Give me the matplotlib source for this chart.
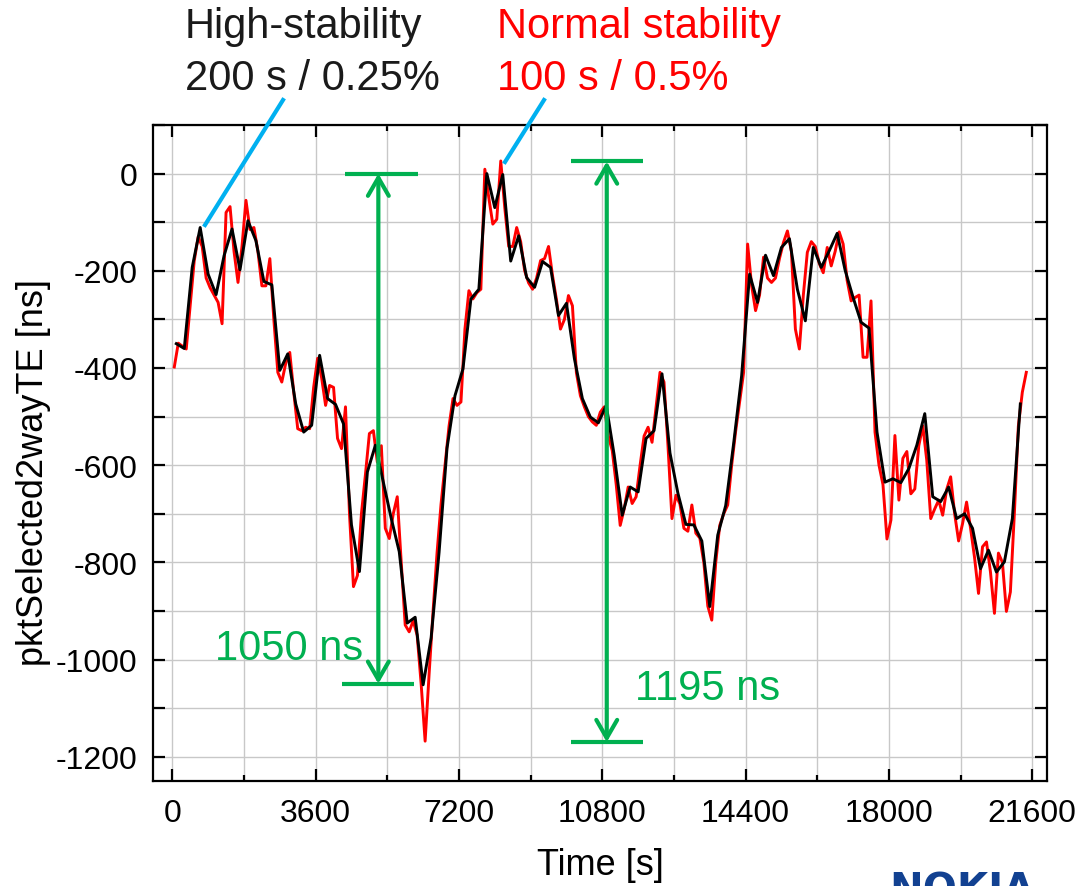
import numpy as np
import matplotlib
matplotlib.use("Agg")
import matplotlib.pyplot as plt
from matplotlib.lines import Line2D
from matplotlib.ticker import MultipleLocator

plt.rcParams['font.family'] = ['Liberation Sans', 'DejaVu Sans']
plt.rcParams['axes.unicode_minus'] = False

# ---------------- data ----------------
# Normal stability (100 s / 0.5%), one sample every 100 s starting at 50 s
normal_t0, normal_dt = 50, 100
normal_vals = [
    -398, -349, -355, -361, -270, -180, -130, -150, -215, -235,
    -250, -265, -309, -80, -68, -160, -224, -150, -55, -115,
    -111, -160, -231, -231, -175, -300, -409, -429, -390, -368,
    -450, -525, -529, -522, -525, -440, -380, -420, -477, -436,
    -440, -545, -566, -480, -700, -850, -827, -700, -620, -535,
    -529, -594, -560, -730, -751, -700, -665, -800, -929, -943,
    -920, -950, -1050, -1168, -1030, -900, -780, -680, -600, -520,
    -463, -477, -470, -320, -241, -258, -245, -238, 9, -50,
    -104, -94, 26, -70, -150, -150, -111, -140, -200, -225,
    -238, -215, -179, -175, -150, -210, -260, -320, -300, -251,
    -272, -410, -457, -480, -500, -511, -518, -491, -480, -540,
    -570, -640, -724, -690, -645, -679, -665, -600, -540, -522,
    -553, -480, -409, -429, -560, -710, -662, -680, -730, -736,
    -682, -740, -750, -800, -890, -919, -800, -724, -700, -682,
    -600, -530, -470, -409, -145, -230, -282, -250, -172, -215,
    -224, -215, -175, -142, -118, -160, -320, -361, -250, -162,
    -140, -150, -185, -204, -152, -190, -160, -120, -145, -220,
    -262, -255, -250, -378, -378, -262, -532, -600, -640, -752,
    -713, -539, -672, -586, -572, -659, -649, -560, -519, -590,
    -710, -690, -672, -703, -650, -624, -700, -756, -720, -676,
    -730, -790, -864, -768, -758, -820, -905, -781, -800, -901,
    -861, -700, -520, -450, -409,
]

# High stability (200 s / 0.25%), one sample every 200 s starting at 100 s
high_t0, high_dt = 100, 200
high_vals = [
    -350, -360, -193, -111, -207, -249, -169, -114, -198, -97,
    -138, -222, -229, -405, -371, -474, -532, -518, -374, -463,
    -475, -515, -723, -819, -614, -559, -635, -710, -778, -925,
    -913, -1052, -956, -780, -565, -457, -402, -258, -238, 0,
    -70, -2, -180, -128, -214, -234, -181, -193, -292, -267,
    -381, -463, -501, -513, -477, -580, -703, -645, -655, -545,
    -529, -412, -575, -658, -722, -723, -756, -891, -744, -683,
    -555, -416, -207, -265, -168, -210, -152, -134, -238, -303,
    -152, -193, -159, -123, -199, -255, -306, -318, -532, -635,
    -628, -636, -607, -559, -494, -665, -675, -645, -710, -700,
    -730, -813, -775, -820, -799, -710, -474,
]

x_ticks = [0, 3600, 7200, 10800, 14400, 18000, 21600]
y_ticks = [0, -200, -400, -600, -800, -1000, -1200]

normal_t = normal_t0 + normal_dt * np.arange(len(normal_vals))
high_t = high_t0 + high_dt * np.arange(len(high_vals))

# ---------------- figure ----------------
W, H = 1092, 887
fig = plt.figure(figsize=(W / 100, H / 100), dpi=100)

def fx(px):
    return px / W

def fy(py):
    return 1 - py / H

ax_l, ax_r, ax_t, ax_b = 153, 1047, 126, 782
ax = fig.add_axes([fx(ax_l), fy(ax_b), (ax_r - ax_l) / W, (ax_b - ax_t) / H])

RED = '#ff0000'
GREEN = '#00b050'
CYAN = '#00b0f0'

ax.plot(normal_t, normal_vals, color=RED, lw=2.1, zorder=3)
ax.plot(high_t, high_vals, color='black', lw=2.1, zorder=4)

ax.set_xlim(-485, 21970)
ax.set_ylim(-1250, 100)
ax.set_xticks(x_ticks)
ax.set_xticklabels([str(v) for v in x_ticks])
ax.set_yticks(y_ticks)
ax.set_yticklabels([str(v) for v in y_ticks])
ax.xaxis.set_minor_locator(MultipleLocator(1800))
ax.yaxis.set_minor_locator(MultipleLocator(100))

ax.grid(True, which='both', color='#c8c8c8', lw=1.0, zorder=0)
ax.set_axisbelow(True)
for s in ax.spines.values():
    s.set_linewidth(1.6)
    s.set_color('black')

ax.tick_params(which='both', direction='in', top=True, right=True,
               width=1.6, color='black', labelsize=23)
ax.tick_params(axis='x', which='major', length=8.5, pad=12)
ax.tick_params(axis='x', which='minor', length=4.3)
ax.tick_params(axis='y', which='major', length=8.5, pad=11)
ax.tick_params(axis='y', which='minor', length=8.5)

# axis labels
fig.text(fx(34), fy(473), 'pktSelected2wayTE [ns]', rotation=90,
         ha='center', va='center', fontsize=26)
fig.text(fx(600), fy(866), 'Time [s]', ha='center', va='center', fontsize=26)

# span arrows
arrows = [
    # (time, top value, bottom value, top bar (t1,t2), bottom bar (t1,t2))
    (5175, 0, -1050, (4337, 6165), (4270, 6080)),
    (10912, 25, -1170, (10007, 11830), (10007, 11830)),
]
for t, ytop, ybot, tb, bb in arrows:
    ax.annotate('', xy=(t, ytop), xytext=(t, ybot),
                arrowprops=dict(arrowstyle='<->,head_length=1.3,head_width=0.75',
                                color=GREEN, lw=3, shrinkA=0, shrinkB=0,
                                mutation_scale=10),
                zorder=5)
    ax.plot(tb, [ytop, ytop], color=GREEN, lw=3, solid_capstyle='butt', zorder=5)
    ax.plot(bb, [ybot, ybot], color=GREEN, lw=3, solid_capstyle='butt', zorder=5)

fig.text(fx(215), fy(660), '1050 ns', color=GREEN, fontsize=30,
         ha='left', va='baseline')
fig.text(fx(635), fy(700), '1195 ns', color=GREEN, fontsize=30,
         ha='left', va='baseline')

# legend-like labels at top
fig.text(fx(185), fy(38), 'High-stability', color='#1a1a1a', fontsize=30,
         ha='left', va='baseline')
fig.text(fx(185), fy(90), '200 s / 0.25%', color='#1a1a1a', fontsize=30,
         ha='left', va='baseline')
fig.text(fx(497), fy(38), 'Normal stability', color=RED, fontsize=30,
         ha='left', va='baseline')
fig.text(fx(497), fy(90), '100 s / 0.5%', color=RED, fontsize=30,
         ha='left', va='baseline')

fig.add_artist(Line2D([fx(205), fx(283)], [fy(226), fy(101)], color=CYAN,
                      lw=3, transform=fig.transFigure))
fig.add_artist(Line2D([fx(505), fx(544)], [fy(163), fy(101)], color=CYAN,
                      lw=3, transform=fig.transFigure))

# logo (cut off at the bottom edge, as in the reference)
fig.text(fx(889), fy(872), 'NOKIA', color='#124191', fontsize=29,
         fontweight='bold', family='DejaVu Sans', ha='left', va='top')

fig.savefig('out.png', dpi=100)
